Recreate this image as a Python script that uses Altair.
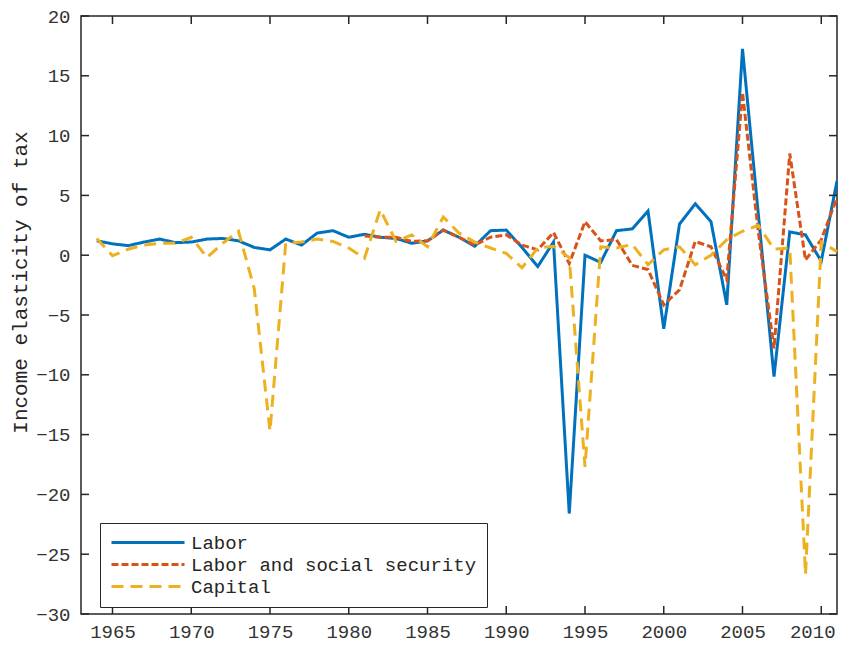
import altair as alt
import pandas as pd

years = list(range(1964, 2012))
labor = [1.2, 0.95, 0.8, 1.1, 1.35, 1.05, 1.1, 1.35, 1.4, 1.2,
         0.65, 0.45, 1.35, 0.85, 1.85, 2.05, 1.5, 1.75, 1.5, 1.4,
         1.0, 1.2, 2.1, 1.5, 0.75, 2.05, 2.1, 0.65, -0.95, 1.1,
         -21.6, 0.0, -0.6, 2.05, 2.2, 3.7, -6.15, 2.6, 4.3, 2.8,
         -4.15, 17.25, 3.5, -10.15, 1.95, 1.7, -0.5, 6.2]
labor_ss_years = list(range(1981, 2012))
labor_ss = [1.6, 1.5, 1.5, 1.15, 1.2, 2.1, 1.5, 0.85, 1.5, 1.7,
            0.85, 0.45, 1.9, -0.7, 2.8, 1.2, 1.3, -0.85, -1.2, -4.15,
            -2.9, 1.15, 0.7, -2.05, 13.6, 2.0, -7.8, 8.5, -0.4, 1.3, 4.8]
capital = [1.4, -0.05, 0.5, 0.85, 1.0, 1.0, 1.5, -0.2, 1.0, 2.0,
           -2.8, -14.7, 1.0, 1.1, 1.35, 1.15, 0.6, -0.25, 3.8, 1.15,
           1.7, 0.7, 3.2, 1.85, 1.1, 0.6, 0.15, -1.05, 0.6, 0.75,
           -0.2, -17.7, 0.7, 0.6, 0.9, -0.8, 0.45, 0.7, -0.8, 0.0,
           1.3, 2.0, 2.5, 0.5, 0.6, -26.7, 1.1, 0.3]

x_ticks = [1965, 1970, 1975, 1980, 1985, 1990, 1995, 2000, 2005, 2010]
y_ticks = [-30, -25, -20, -15, -10, -5, 0, 5, 10, 15, 20]

series_names = ["Labor", "Labor and social security", "Capital"]
colors = ["#0072BD", "#D95319", "#EDB120"]
dashes = [[1, 0], [7, 3], [12, 7]]

rows = []
for yr, v in zip(years, labor):
    rows.append({"year": yr, "value": v, "series": series_names[0]})
for yr, v in zip(labor_ss_years, labor_ss):
    rows.append({"year": yr, "value": v, "series": series_names[1]})
for yr, v in zip(years, capital):
    rows.append({"year": yr, "value": v, "series": series_names[2]})
df = pd.DataFrame(rows)

W, H = 756, 598
FONT = "Liberation Mono"
AX = "#262626"
TL = 8

xs = alt.Scale(domain=[1963, 2011], nice=False, zero=False)
ys = alt.Scale(domain=[-30, 20], nice=False, zero=False)

xaxis = alt.Axis(values=x_ticks, format="d", title="", ticks=False,
                 domain=False, grid=False, labelPadding=8,
                 labelOffset={"condition": {"test": "datum.value == 2010", "value": -9}, "value": 0})
yaxis = alt.Axis(values=y_ticks, title="Income elasticity of tax", ticks=False,
                 domain=False, grid=False, labelPadding=11,
                 titleX=-61, titleY=266, titleAlign="center", titleBaseline="middle")

leg = alt.Legend(
    title=None, orient="none", legendX=19, legendY=507,
    fillColor="white", strokeColor=AX, padding=10,
    symbolType="stroke", symbolSize=5329, symbolStrokeWidth=3,
    clipHeight=19, rowPadding=2, labelOffset=5, labelLimit=500,
    labelFont=FONT, labelFontSize=19, labelColor=AX,
)


def series_layer(name):
    return (alt.Chart(df)
            .mark_line(strokeWidth=3, strokeCap="butt", strokeJoin="miter")
            .transform_filter(alt.datum.series == name)
            .encode(
                x=alt.X("year:Q", scale=xs, axis=xaxis),
                y=alt.Y("value:Q", scale=ys, axis=yaxis),
                color=alt.Color("series:N", scale=alt.Scale(domain=series_names, range=colors), legend=leg),
                strokeDash=alt.StrokeDash("series:N", scale=alt.Scale(domain=series_names, range=dashes), legend=leg),
            ))


xt = pd.DataFrame({"t": x_ticks})
yt = pd.DataFrame({"t": y_ticks})

top_ticks = alt.Chart(xt).mark_rule(color=AX, strokeWidth=1.5).encode(
    x=alt.X("t:Q", scale=xs, axis=xaxis), y=alt.value(0), y2=alt.value(TL))
bot_ticks = alt.Chart(xt).mark_rule(color=AX, strokeWidth=1.5).encode(
    x=alt.X("t:Q", scale=xs, axis=xaxis), y=alt.value(H - TL), y2=alt.value(H))
left_ticks = alt.Chart(yt).mark_rule(color=AX, strokeWidth=1.5).encode(
    y=alt.Y("t:Q", scale=ys, axis=yaxis), x=alt.value(0), x2=alt.value(TL))
right_ticks = alt.Chart(yt).mark_rule(color=AX, strokeWidth=1.5).encode(
    y=alt.Y("t:Q", scale=ys, axis=yaxis), x=alt.value(W - TL), x2=alt.value(W))

chart = alt.layer(
    series_layer(series_names[0]),
    series_layer(series_names[1]),
    series_layer(series_names[2]),
    top_ticks, bot_ticks, left_ticks, right_ticks,
).properties(
    width=W, height=H,
    autosize=alt.AutoSizeParams(type="none"),
    padding={"left": 73, "top": 8, "right": 1, "bottom": 28},
).configure_view(
    stroke=AX, strokeWidth=1.5
).configure_axis(
    labelFont=FONT, labelFontSize=19, labelColor="#333333",
    titleFont=FONT, titleFontSize=21, titleColor=AX, titleFontWeight="normal",
)

chart.save("out.html", embed_options={"renderer": "svg", "actions": False})
